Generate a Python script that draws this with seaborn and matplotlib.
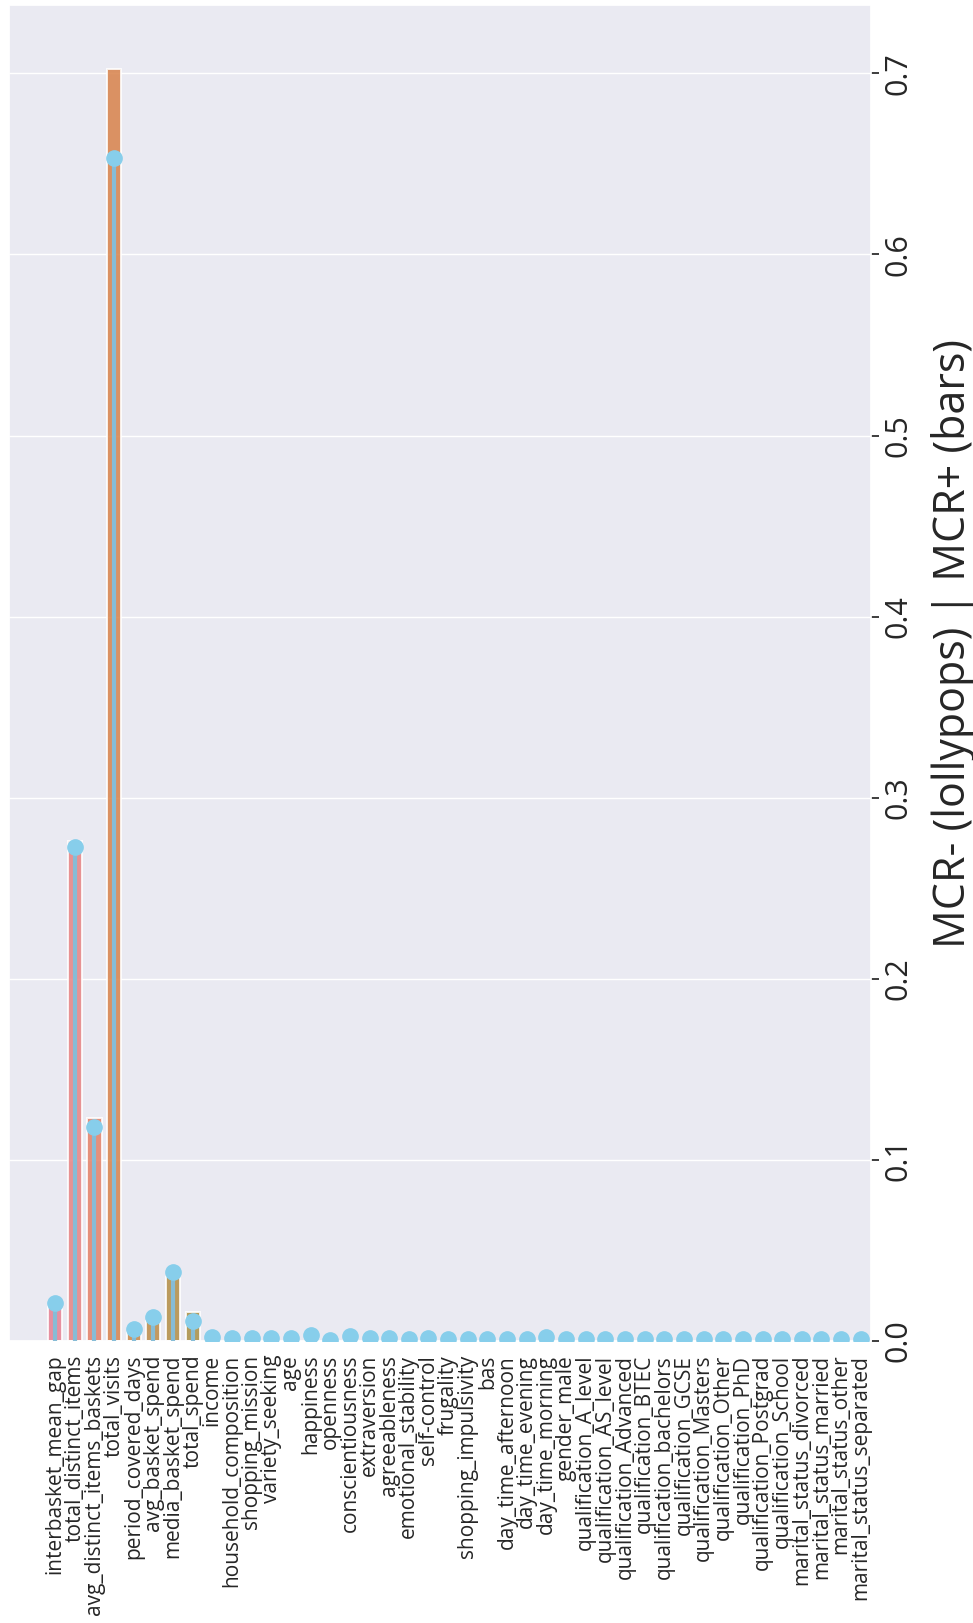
import numpy as np
import pandas as pd
import matplotlib
matplotlib.use("Agg")
import matplotlib.pyplot as plt
import seaborn as sns

features = [
    "interbasket_mean_gap", "total_distinct_items", "avg_distinct_items_baskets",
    "total_visits", "period_covered_days", "avg_basket_spend", "media_basket_spend",
    "total_spend", "income", "household_composition", "shopping_mission",
    "variety_seeking", "age", "happiness", "openness", "conscientiousness",
    "extraversion", "agreeableness", "emotional_stability", "self-control",
    "frugality", "shopping_impulsivity", "bas", "day_time_afternoon",
    "day_time_evening", "day_time_morning", "gender_male", "qualification_A_level",
    "qualification_AS_level", "qualification_Advanced", "qualification_BTEC",
    "qualification_bachelors", "qualification_GCSE", "qualification_Masters",
    "qualification_Other", "qualification_PhD", "qualification_Postgrad",
    "qualification_School", "marital_status_divorced", "marital_status_married",
    "marital_status_other", "marital_status_separated",
]

# MCR+ (bars)
mcr_plus = [
    0.020, 0.276, 0.1233, 0.7026, 0.005, 0.0112, 0.0355, 0.016,
    0.0, 0.0, 0.0, 0.0, 0.0, 0.0, 0.0, 0.0, 0.0, 0.0, 0.0, 0.0, 0.0,
    0.0, 0.0, 0.0, 0.0, 0.0, 0.0, 0.0, 0.0, 0.0, 0.0, 0.0, 0.0, 0.0,
    0.0, 0.0, 0.0, 0.0, 0.0, 0.0, 0.0, 0.0,
]

# MCR- (lollypops)
mcr_minus = [
    0.021, 0.2725, 0.118, 0.653, 0.0064, 0.0134, 0.0382, 0.0112,
    0.0020, 0.0015, 0.0015, 0.0015, 0.0015, 0.0035, 0.0004, 0.0025,
    0.0018, 0.0018, 0.0008, 0.0018, 0.0008, 0.0008, 0.0008, 0.0008,
    0.0008, 0.0020, 0.0008, 0.0008, 0.0008, 0.0008, 0.0008, 0.0008,
    0.0008, 0.0008, 0.0008, 0.0008, 0.0008, 0.0008, 0.0008, 0.0008,
    0.0008, 0.0008,
]

value_ticks = [0.0, 0.1, 0.2, 0.3, 0.4, 0.5, 0.6, 0.7]
value_label = "MCR- (lollypops) | MCR+ (bars)"

sns.set_theme(style="darkgrid")
plt.rcParams["font.family"] = ["Open Sans", "DejaVu Sans"]

df = pd.DataFrame({"feature": features, "plus": mcr_plus, "minus": mcr_minus})

fig = plt.figure(figsize=(9.73, 16.23), dpi=100)
ax = fig.add_axes([0.00925, 0.1738, 0.8855, 0.8231])

sns.barplot(data=df, x="feature", y="plus", hue="feature", palette="husl",
            legend=False, width=0.72, edgecolor="white", linewidth=1.4,
            alpha=0.85, ax=ax)

pos = np.arange(len(features))
ax.vlines(pos, 0, df["minus"], color="#86bcd6", linewidth=3, zorder=3)
ax.plot(pos, df["minus"], "o", color="skyblue", markersize=11, zorder=4)

ax.set_xlim(-2.35, len(features) - 0.5)
ax.set_ylim(0, 0.7026 * 1.05)
ax.set_yticks(value_ticks)
ax.set_yticklabels([f"{t:.1f}" for t in value_ticks])
ax.yaxis.tick_right()
ax.yaxis.set_label_position("right")
ax.tick_params(axis="y", labelrotation=90, labelsize=22, pad=3)
ax.tick_params(axis="x", labelrotation=90, labelsize=15, pad=4)
for lbl in ax.get_yticklabels():
    lbl.set_va("center")
ax.set_xlabel("")
ax.set_ylabel(value_label, fontsize=31, rotation=90, labelpad=13)
ax.yaxis.label.set_y(0.522)
ax.grid(axis="x", visible=False)

fig.savefig("out.png", dpi=100)
